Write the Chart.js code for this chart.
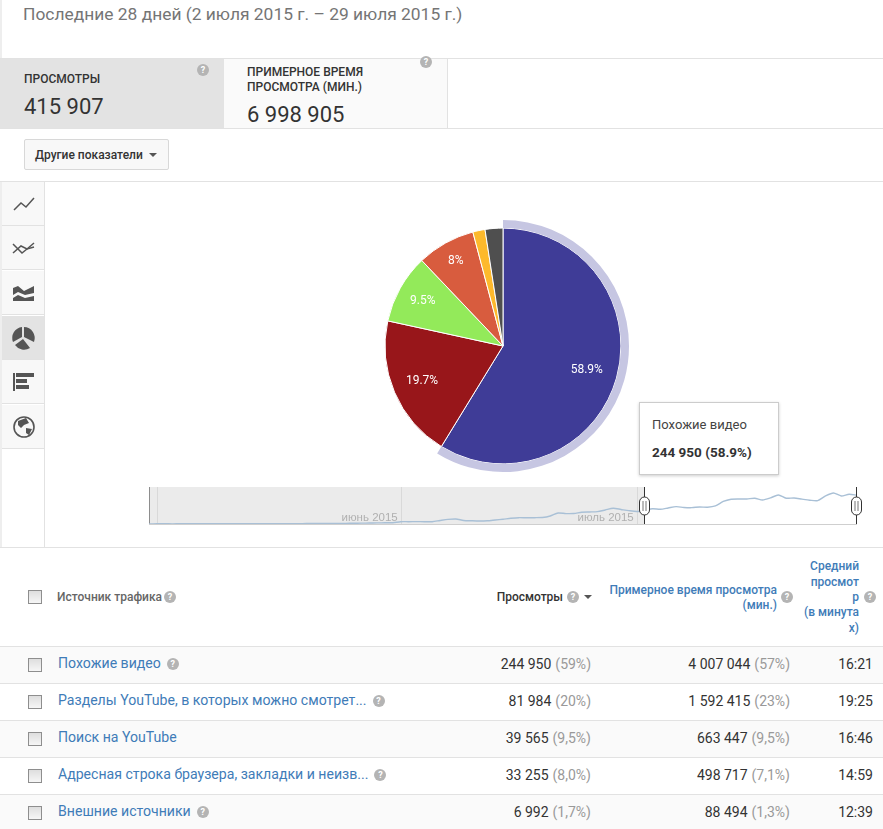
<!DOCTYPE html>
<html lang="ru">
<head>
<meta charset="utf-8">
<title>Источники трафика</title>
<script src="https://cdn.jsdelivr.net/npm/chart.js@4"></script>
<style>
  html, body { margin: 0; padding: 0; background: #fff; }
  body { position: relative; width: 883px; height: 829px; overflow: hidden; font-family: Roboto, Arial, sans-serif; color: #333; }
  .t { position: absolute; white-space: nowrap; line-height: 1; transform: translateY(-50%); }
  .box { position: absolute; box-sizing: border-box; }
  .help { position: absolute; width: 12px; height: 12px; margin: -6px 0 0 -6px; border-radius: 50%; background: #b4b4b4; color: #fff; font-size: 9px; font-weight: 700; line-height: 12px; text-align: center; }
  .check { position: absolute; box-sizing: border-box; width: 14px; height: 14px; border: 1px solid #8e8e8e; background: linear-gradient(#dedede, #f6f6f6); }
  .caret { position: absolute; width: 0; height: 0; border-left: 4px solid transparent; border-right: 4px solid transparent; border-top: 4px solid #555; }
  canvas { position: absolute; }
  #tip { position: absolute; left: 639px; top: 402px; width: 140px; height: 73px; box-sizing: border-box; background: #fff; border: 1px solid #ccc; box-shadow: 0 1px 3px rgba(0,0,0,.2); }
  svg { position: absolute; }
</style>
</head>
<body>
<canvas id="pie" style="left:373px;top:216px" width="260" height="260"></canvas>
<canvas id="nav" style="left:140px;top:484px" width="730" height="44"></canvas>
<div id="tip"></div>
<script>
// traffic sources, table rows
const sources = [
  "Похожие видео",
  "Разделы YouTube, в которых можно смотрет...",
  "Поиск на YouTube",
  "Адресная строка браузера, закладки и неизв...",
  "Внешние источники",
];
const views = ["244 950", "81 984", "39 565", "33 255", "6 992"];
const viewShares = ["(59%)", "(20%)", "(9,5%)", "(8,0%)", "(1,7%)"];
const watchTime = ["4 007 044", "1 592 415", "663 447", "498 717", "88 494"];
const watchShares = ["(57%)", "(23%)", "(9,5%)", "(7,1%)", "(1,3%)"];
const avgDuration = ["16:21", "19:25", "16:46", "14:59", "12:39"];
const helpAfter = [1, 1, 0, 1, 1];

// pie slices (last one is everything not listed in the visible rows)
const sliceValues = [244950, 81984, 39565, 33255, 6992, 10161];
const sliceLabels = ["58.9%", "19.7%", "9.5%", "8%", "", ""];
const sliceColors = ["#3f3c97", "#98161a", "#93ea5a", "#d85c3e", "#fdb92c", "#4f4f4f"];
const ringColor = "#c6c6e2";

// daily views for the range strip, 30 Apr - 29 Jul
const dailyViews = [
  100, 120, 130, 110, 150, 160, 140, 170, 180, 150, 190, 200, 180, 210, 230, 200,
  240, 250, 230, 260, 280, 300, 320, 350, 390, 430, 500, 560, 640, 730, 780, 830,
  1500, 1500, 1560, 1500, 1500, 2280, 2990, 3250, 2280, 2080, 1950, 2080, 2600, 3120,
  3710, 4100, 4030, 4100, 4230, 5200, 7150, 6760, 6830, 7610, 7800, 8000, 9100, 10200,
  9430, 8650, 8130, 8780, 9880, 9560, 10400, 11250, 10730, 10600, 11050, 10860, 11700,
  14630, 16060, 16250, 16250, 16710, 15600, 16900, 18850, 16710, 16900, 16120, 15410,
  15150, 18200, 20150, 18200, 19310, 18660,
];
const monthTicks = [1, 32, 62];
const monthLabels = ["", "июнь 2015", "июль 2015"];
const rangeStart = 63;
const rangeEnd = 90;

function text(x, y, str, style, right) {
  const el = document.createElement("div");
  el.className = "t";
  el.textContent = str;
  el.style.cssText = (right ? "right:" + (883 - x) + "px;" : "left:" + x + "px;") + "top:" + y + "px;" + (style || "");
  document.body.appendChild(el);
  return el;
}

function box(x, y, w, h, style) {
  const el = document.createElement("div");
  el.className = "box";
  el.style.cssText = "left:" + x + "px;top:" + y + "px;width:" + w + "px;height:" + h + "px;" + (style || "");
  document.body.insertBefore(el, document.body.firstChild);
  return el;
}

function help(x, y) {
  const el = document.createElement("div");
  el.className = "help";
  el.textContent = "?";
  el.style.left = x + "px";
  el.style.top = y + "px";
  document.body.appendChild(el);
}

function check(x, y) {
  const el = document.createElement("div");
  el.className = "check";
  el.style.left = x + "px";
  el.style.top = y + "px";
  document.body.appendChild(el);
}

function caret(x, y) {
  const el = document.createElement("div");
  el.className = "caret";
  el.style.left = x + "px";
  el.style.top = y + "px";
  document.body.appendChild(el);
}

// page frame
const LINE = "#e2e2e2";
box(0, 0, 2, 58, "background:#eee");
box(0, 58, 883, 1, "background:" + LINE);
box(0, 128, 883, 1, "background:" + LINE);
box(0, 181, 883, 1, "background:" + LINE);
box(0, 547, 883, 1, "background:" + LINE);
box(0, 59, 224, 69, "background:#e3e3e3");
box(224, 59, 224, 69, "background:#fafafa;border-right:1px solid " + LINE);
box(44, 182, 1, 365, "background:" + LINE);
box(0, 182, 2, 365, "background:#eee");

text(23, 15, "Последние 28 дней (2 июля 2015 г. – 29 июля 2015 г.)", "font-size:17.4px;color:#757575");

text(24, 79, "ПРОСМОТРЫ", "font-size:12px;font-weight:500;color:#333");
text(24, 107, "415 907", "font-size:22px;color:#333");
help(203, 70);
text(247, 72, "ПРИМЕРНОЕ ВРЕМЯ", "font-size:12px;font-weight:500;color:#333");
text(247, 87, "ПРОСМОТРА (МИН.)", "font-size:12px;font-weight:500;color:#333");
text(247, 115, "6 998 905", "font-size:22px;color:#333");
help(426, 62);

box(24, 139, 145, 31, "background:#f8f8f8;border:1px solid #d8d8d8;border-radius:2px");
text(35, 155, "Другие показатели", "font-size:12px;font-weight:500;color:#333");
caret(149, 153);

// chart type rail
const railIcons = [
  '<polyline points="14,210 21,203 26,207 34,198" fill="none" stroke="#555" stroke-width="1.5"/>',
  '<polyline points="13,244 22,253 27,249 34,243" fill="none" stroke="#555" stroke-width="1.5"/><polyline points="13,253 21,246 27,249 34,247" fill="none" stroke="#555" stroke-width="1.5"/>',
  '<path d="M13,288 L18,286 L24,291 L34,286 L34,293 L25,295 L18,292 L13,295 Z M13,298 L18,295 L25,298 L34,296 L34,301 L13,301 Z" fill="#555"/>',
  '<path d="M22,337 L22,327 A11,11 0 0 0 13,342 Z M24,337 L24,327 A11,11 0 0 1 34,342 Z M15,345 L23,339 L30,348 A11,11 0 0 1 15,345 Z" fill="#555"/>',
  '<rect x="13" y="373" width="2" height="18" fill="#555"/><rect x="16" y="373" width="18" height="4" fill="#555"/><rect x="16" y="379" width="11" height="4" fill="#555"/><rect x="16" y="385" width="13" height="4" fill="#555"/>',
  '<circle cx="24" cy="427" r="10" fill="none" stroke="#555" stroke-width="1.6"/><path d="M18,421 L26,418 L29,423 L24,425 L21,428 L18,425 Z M26,428 L32,429 L29,435 L26,433 Z" fill="#555"/>',
];
const railTops = [182, 226, 271, 316, 360, 405];
const railHeights = [44, 44, 44, 44, 44, 44];
railTops.forEach((top, i) => {
  box(2, top, 42, railHeights[i], "background:" + (i === 3 ? "#e3e3e3" : "#f8f8f8") + ";border-bottom:1px solid " + LINE);
});
const railSvg = document.createElementNS("http://www.w3.org/2000/svg", "svg");
railSvg.setAttribute("width", "44");
railSvg.setAttribute("height", "460");
railSvg.style.cssText = "left:0;top:0";
railSvg.innerHTML = railIcons.join("");
document.body.appendChild(railSvg);

// table
const ROW_TOP = 646;
const ROW_H = 37;
sources.forEach((name, i) => {
  const top = ROW_TOP + i * ROW_H;
  const mid = top + 18;
  box(0, top, 883, ROW_H, "border-top:1px solid " + LINE + ";background:" + (i % 2 ? "#fff" : "#fafafa"));
  box(3, top + 3, 3, ROW_H - 4, "background:" + sliceColors[i]);
  check(28, top + 12);
  const link = text(58, mid - 1, name, "font-size:14.1px;color:#3f7cb8");
  if (helpAfter[i]) help(link.getBoundingClientRect().right + 12, mid);
  const share = text(591, mid, viewShares[i], "font-size:14px;color:#999", true);
  text(591 - share.getBoundingClientRect().width - 4, mid, views[i], "font-size:14px;color:#333", true);
  const share2 = text(790, mid, watchShares[i], "font-size:14px;color:#999", true);
  text(790 - share2.getBoundingClientRect().width - 4, mid, watchTime[i], "font-size:14px;color:#333", true);
  text(873, mid, avgDuration[i], "font-size:14px;color:#333", true);
});

const HEAD = "font-size:12px;font-weight:500;";
const BLUE = "color:#3f7cb8;";
check(28, 590);
text(57, 597, "Источник трафика", HEAD + "color:#666");
help(170, 597);
text(563, 597, "Просмотры", HEAD + "color:#333", true);
help(573, 597);
caret(584, 595);
text(777, 590, "Примерное время просмотра", HEAD + BLUE, true);
text(777, 605, "(мин.)", HEAD + BLUE, true);
help(787, 597);
text(859, 566, "Средний", HEAD + BLUE, true);
text(859, 582, "просмот", HEAD + BLUE, true);
text(859, 597, "р", HEAD + BLUE, true);
text(859, 612, "(в минута", HEAD + BLUE, true);
text(859, 628, "х)", HEAD + BLUE, true);
help(870, 597);

// tooltip next to the hovered slice
const tip = document.getElementById("tip");
tip.innerHTML = '<div class="t" style="left:12px;top:21px;font-size:13px;color:#444"></div><div class="t" style="left:12px;top:50px;font-size:13.5px;font-weight:700;color:#333"></div>';
tip.children[0].textContent = sources[0];
tip.children[1].textContent = views[0] + " (" + sliceLabels[0] + ")";

// percent labels sit further out on the smaller slices
const labelReach = [87, 88, 92, 97];
const sliceTextPlugin = {
  id: "sliceText",
  afterDatasetsDraw(chart) {
    const ctx = chart.ctx;
    const arcs = chart.getDatasetMeta(1).data;
    ctx.save();
    ctx.font = "12px Roboto, Arial, sans-serif";
    ctx.fillStyle = "#fff";
    ctx.textAlign = "center";
    ctx.textBaseline = "middle";
    sliceLabels.forEach((label, i) => {
      if (!label) return;
      const p = arcs[i].getProps(["x", "y", "startAngle", "endAngle"], true);
      const mid = (p.startAngle + p.endAngle) / 2;
      ctx.fillText(label, p.x + Math.cos(mid) * labelReach[i], p.y + Math.sin(mid) * labelReach[i]);
    });
    ctx.restore();
  },
};

new Chart(document.getElementById("pie").getContext("2d"), {
  type: "doughnut",
  data: {
    labels: sliceValues.map((v, i) => sources[i] || "Другое"),
    datasets: [
      {
        // first dataset is the outer ring, it marks the hovered slice
        data: sliceValues,
        backgroundColor: sliceValues.map((v, i) => (i === 0 ? ringColor : "transparent")),
        borderWidth: 0,
        weight: 8,
      },
      {
        data: sliceValues,
        backgroundColor: sliceColors,
        borderColor: "#fff",
        borderWidth: 1,
        weight: 117,
      },
    ],
  },
  options: {
    responsive: false,
    animation: false,
    cutout: 0,
    layout: { padding: 4 },
    events: [],
    plugins: { legend: { display: false }, tooltip: { enabled: false } },
  },
  plugins: [sliceTextPlugin],
});

// shaded part, month marks and drag handles of the range strip
const rangePlugin = {
  id: "rangeStrip",
  beforeDatasetsDraw(chart) {
    const ctx = chart.ctx;
    const x = chart.scales.x;
    const { top, bottom, left } = chart.chartArea;
    const cut = x.getPixelForValue(rangeStart);
    ctx.save();
    ctx.fillStyle = "#ebebeb";
    ctx.fillRect(left, top, cut - left, bottom - top);
    ctx.fillStyle = "#d9d9d9";
    monthTicks.forEach((tick) => ctx.fillRect(Math.round(x.getPixelForValue(tick)), top, 1, bottom - top));
    ctx.fillStyle = "#8d8d8d";
    ctx.fillRect(left, top, 1, bottom - top);
    ctx.fillStyle = "#cfcfcf";
    ctx.fillRect(left, bottom, x.getPixelForValue(rangeEnd) - left, 1);
    ctx.restore();
  },
  afterDatasetsDraw(chart) {
    const ctx = chart.ctx;
    const x = chart.scales.x;
    const { top, bottom } = chart.chartArea;
    ctx.save();
    ctx.font = "11.5px 'Liberation Sans', Arial, sans-serif";
    ctx.fillStyle = "#b0b0b0";
    ctx.textAlign = "right";
    ctx.textBaseline = "alphabetic";
    monthLabels.forEach((label, i) => {
      if (label) ctx.fillText(label, x.getPixelForValue(monthTicks[i]) - 3, bottom - 3);
    });
    [rangeStart, rangeEnd].forEach((idx) => {
      const hx = Math.round(x.getPixelForValue(idx)) - 0.5;
      const mid = (top + bottom) / 2 + 0.5;
      ctx.strokeStyle = "#333";
      ctx.lineWidth = 1;
      ctx.beginPath();
      ctx.moveTo(hx, top);
      ctx.lineTo(hx, bottom);
      ctx.stroke();
      ctx.beginPath();
      ctx.roundRect(hx - 5, mid - 9, 10, 18, 5);
      ctx.fillStyle = "#fff";
      ctx.fill();
      ctx.stroke();
      ctx.strokeStyle = "#777";
      ctx.beginPath();
      ctx.moveTo(hx - 1.5, mid - 5);
      ctx.lineTo(hx - 1.5, mid + 5);
      ctx.moveTo(hx + 1.5, mid - 5);
      ctx.lineTo(hx + 1.5, mid + 5);
      ctx.stroke();
    });
    ctx.restore();
  },
};

new Chart(document.getElementById("nav").getContext("2d"), {
  type: "line",
  data: {
    labels: dailyViews.map((v, i) => i),
    datasets: [
      {
        data: dailyViews,
        borderColor: "#a9c0d6",
        borderWidth: 1.4,
        pointRadius: 0,
        tension: 0.25,
        fill: false,
      },
    ],
  },
  options: {
    responsive: false,
    animation: false,
    events: [],
    layout: { padding: { left: 9, right: 13, top: 3, bottom: 4 } },
    scales: {
      x: { display: false },
      y: { display: false, min: 0, max: 24000 },
    },
    plugins: { legend: { display: false }, tooltip: { enabled: false } },
  },
  plugins: [rangePlugin],
});
</script>
</body>
</html>
